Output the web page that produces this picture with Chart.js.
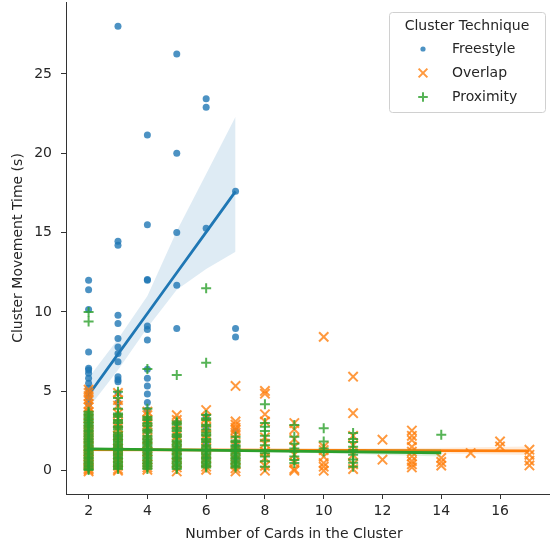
<!DOCTYPE html>
<html>
<head>
<meta charset="utf-8">
<script src="https://cdn.jsdelivr.net/npm/chart.js@4/dist/chart.umd.min.js"></script>
<style>
  body { margin: 0; background: #fff; }
  canvas { display: block; }
</style>
</head>
<body>
<canvas id="clusterChart" width="550" height="547"></canvas>
<script>
// [cards, seconds]
const freestyle = [
  [2, 12.0], [2, 11.4], [2, 10.15], [2, 7.48], [2, 6.45], [2, 6.35], [2, 6.14], [2, 5.83], [2, 5.51], [2, 5.2],
  [2, 4.9], [2, 4.6], [2, 4.2], [2, 3.8], [2, 3.3], [2, 2.9], [2, 2.4], [2, 2.0], [2, 1.6], [2, 1.2], [2, 0.8], [2, 0.4],
  [3, 28.0], [3, 14.46], [3, 14.2], [3, 9.79], [3, 9.27], [3, 8.33], [3, 7.8], [3, 7.39], [3, 6.86], [3, 5.92],
  [3, 5.73], [3, 5.6], [3, 4.9], [3, 4.3], [3, 3.5], [3, 2.8], [3, 2.1], [3, 1.5], [3, 0.9], [3, 0.3],
  [4, 21.15], [4, 15.5], [4, 12.05], [4, 12.0], [4, 9.12], [4, 8.9], [4, 8.24], [4, 6.39], [4, 5.83], [4, 5.34],
  [4, 4.83], [4, 4.3], [4, 3.83], [4, 3.2], [4, 2.5], [4, 1.8], [4, 1.1], [4, 0.5],
  [5, 26.26], [5, 20.0], [5, 15.0], [5, 11.68], [5, 8.96], [5, 3.0], [5, 2.2], [5, 1.4], [5, 0.7],
  [6, 23.43], [6, 22.9], [6, 15.27], [6, 3.4], [6, 2.6], [6, 1.7], [6, 0.9],
  [7, 17.6], [7, 8.96], [7, 8.43], [7, 2.5], [7, 1.6], [7, 0.8]
];

const overlap = [
  [2, 5.1], [2, 4.9], [2, 4.7], [2, 4.5], [2, 4.2], [2, 4.0], [2, 3.7], [2, 3.5], [2, 3.3], [2, 3.0],
  [2, 2.8], [2, 2.6], [2, 2.4], [2, 2.2], [2, 2.0], [2, 1.8], [2, 1.6], [2, 1.5], [2, 1.3], [2, 1.2],
  [2, 1.0], [2, 0.9], [2, 0.7], [2, 0.6], [2, 0.4], [2, 0.3], [2, 0.15], [2, 0.05], [2, -0.05],
  [3, 4.9], [3, 4.45], [3, 4.1], [3, 3.6], [3, 3.3], [3, 3.0], [3, 2.7], [3, 2.5], [3, 2.2], [3, 1.9],
  [3, 1.7], [3, 1.4], [3, 1.2], [3, 1.0], [3, 0.8], [3, 0.5], [3, 0.3], [3, 0.1], [3, 0.0],
  [4, 3.72], [4, 3.5], [4, 3.2], [4, 2.9], [4, 2.6], [4, 2.3], [4, 2.0], [4, 1.7], [4, 1.5], [4, 1.2],
  [4, 0.9], [4, 0.7], [4, 0.4], [4, 0.2], [4, 0.05],
  [5, 3.5], [5, 3.2], [5, 2.9], [5, 2.5], [5, 2.2], [5, 1.9], [5, 1.6], [5, 1.3], [5, 1.0], [5, 0.8], [5, 0.5], [5, 0.2], [5, -0.05],
  [6, 3.82], [6, 3.3], [6, 3.0], [6, 2.7], [6, 2.3], [6, 2.0], [6, 1.7], [6, 1.4], [6, 1.1], [6, 0.8], [6, 0.5], [6, 0.25], [6, 0.05],
  [7, 5.34], [7, 3.1], [7, 2.9], [7, 2.7], [7, 2.56], [7, 2.3], [7, 2.0], [7, 1.6], [7, 1.3], [7, 1.0], [7, 0.7], [7, 0.4], [7, 0.15], [7, -0.05],
  [8, 5.02], [8, 4.85], [8, 3.55], [8, 3.1], [8, 2.1], [8, 1.7], [8, 1.2], [8, 0.8], [8, 0.3], [8, 0.0],
  [9, 3.0], [9, 2.6], [9, 2.0], [9, 1.5], [9, 1.0], [9, 0.5], [9, 0.1], [9, 0.0],
  [10, 8.43], [10, 1.51], [10, 1.3], [10, 0.88], [10, 0.48], [10, 0.25], [10, 0.0],
  [11, 5.92], [11, 3.62], [11, 2.2], [11, 1.6], [11, 1.0], [11, 0.4], [11, 0.1],
  [12, 1.95], [12, 0.69],
  [13, 2.53], [13, 2.2], [13, 1.93], [13, 1.5], [13, 1.2], [13, 0.9], [13, 0.6], [13, 0.4], [13, 0.2],
  [14, 0.8], [14, 0.55], [14, 0.32],
  [15, 1.11],
  [16, 1.84], [16, 1.53],
  [17, 1.32], [17, 1.0], [17, 0.63], [17, 0.33]
];

const proximity = [
  [2, 10.0], [2, 9.4], [2, 3.72], [2, 3.6], [2, 3.5], [2, 3.4], [2, 3.3], [2, 3.2], [2, 3.1], [2, 3.0], [2, 2.9],
  [2, 2.8], [2, 2.7], [2, 2.6], [2, 2.5], [2, 2.4], [2, 2.3], [2, 2.2], [2, 2.1], [2, 2.0], [2, 1.9], [2, 1.8],
  [2, 1.7], [2, 1.6], [2, 1.5], [2, 1.4], [2, 1.3], [2, 1.2], [2, 1.1], [2, 1.0],
  [2, 0.9], [2, 0.8], [2, 0.7], [2, 0.6], [2, 0.5], [2, 0.4], [2, 0.3], [2, 0.2], [2, 0.1], [2, 0.05],
  [3, 4.98], [3, 4.58], [3, 3.9], [3, 3.6], [3, 3.5], [3, 3.4], [3, 3.2], [3, 3.1], [3, 3.0], [3, 2.8], [3, 2.7],
  [3, 2.6], [3, 2.4], [3, 2.3], [3, 2.2], [3, 2.1], [3, 2.0], [3, 1.9], [3, 1.8], [3, 1.7], [3, 1.6], [3, 1.5],
  [3, 1.4], [3, 1.3], [3, 1.2], [3, 1.1], [3, 1.0], [3, 0.9], [3, 0.8], [3, 0.7], [3, 0.6], [3, 0.5], [3, 0.4],
  [3, 0.3], [3, 0.2], [3, 0.1],
  [4, 6.4], [4, 3.9], [4, 3.4], [4, 3.3], [4, 3.2], [4, 3.0], [4, 2.9], [4, 2.8], [4, 2.6], [4, 2.5], [4, 2.4],
  [4, 2.2], [4, 2.1], [4, 2.0], [4, 1.9], [4, 1.8], [4, 1.7], [4, 1.6], [4, 1.5], [4, 1.4], [4, 1.3], [4, 1.2],
  [4, 1.1], [4, 1.0], [4, 0.9], [4, 0.8], [4, 0.7], [4, 0.6], [4, 0.5], [4, 0.4], [4, 0.3], [4, 0.2], [4, 0.1],
  [5, 6.03], [5, 3.1], [5, 3.0], [5, 2.9], [5, 2.7], [5, 2.6], [5, 2.5], [5, 2.3], [5, 2.2], [5, 2.1], [5, 1.9],
  [5, 1.8], [5, 1.7], [5, 1.6], [5, 1.5], [5, 1.4], [5, 1.3], [5, 1.2], [5, 1.1], [5, 1.0], [5, 0.9], [5, 0.8],
  [5, 0.7], [5, 0.6], [5, 0.5], [5, 0.4], [5, 0.3], [5, 0.2], [5, 0.1],
  [6, 11.5], [6, 6.8], [6, 3.5], [6, 3.3], [6, 3.2], [6, 2.9], [6, 2.8], [6, 2.6], [6, 2.4], [6, 2.3], [6, 2.2],
  [6, 2.0], [6, 1.9], [6, 1.8], [6, 1.6], [6, 1.5], [6, 1.4], [6, 1.3], [6, 1.2], [6, 1.1], [6, 1.0], [6, 0.9],
  [6, 0.8], [6, 0.7], [6, 0.6], [6, 0.5], [6, 0.4], [6, 0.3], [6, 0.2],
  [7, 2.14], [7, 1.9], [7, 1.8], [7, 1.6], [7, 1.5], [7, 1.4], [7, 1.3], [7, 1.2], [7, 1.1], [7, 1.0], [7, 0.9],
  [7, 0.8], [7, 0.7], [7, 0.6], [7, 0.5], [7, 0.4], [7, 0.3], [7, 0.2],
  [8, 4.18], [8, 3.0], [8, 2.77], [8, 2.5], [8, 2.2], [8, 1.9], [8, 1.6], [8, 1.3], [8, 1.1], [8, 0.9], [8, 0.6], [8, 0.25],
  [9, 2.88], [9, 2.14], [9, 1.7], [9, 1.4], [9, 1.2], [9, 0.9], [9, 0.67], [9, 0.48],
  [10, 2.68], [10, 1.84], [10, 1.4], [10, 1.2],
  [11, 2.37], [11, 2.0], [11, 1.8], [11, 1.5], [11, 1.3], [11, 1.0], [11, 0.7], [11, 0.5], [11, 0.25],
  [14, 2.26]
];

// regression lines and their confidence bands
const freestyleFitX = [2, 3, 4, 5, 6, 7];
const freestyleFit = [4.77, 7.34, 9.9, 12.47, 15.03, 17.6];
const freestyleLow = [3.95, 6.35, 9.0, 11.4, 12.7, 13.8];
const freestyleHigh = [5.85, 8.3, 11.0, 15.1, 18.7, 22.3];

const overlapFitX = [2, 5, 8, 11, 14, 17];
const overlapFit = [1.32, 1.31, 1.29, 1.28, 1.26, 1.25];
const overlapLow = [1.2, 1.24, 1.22, 1.17, 1.08, 0.98];
const overlapHigh = [1.44, 1.38, 1.36, 1.39, 1.44, 1.52];

const proximityFitX = [2, 5, 8, 11, 14];
const proximityFit = [1.37, 1.31, 1.25, 1.19, 1.13];
const proximityLow = [1.3, 1.26, 1.18, 1.05, 0.9];
const proximityHigh = [1.44, 1.36, 1.32, 1.33, 1.36];

const xTicks = [2, 4, 6, 8, 10, 12, 14, 16];
const yTicks = [0, 5, 10, 15, 20, 25];

const BLUE = '31,119,180', ORANGE = '255,127,14', GREEN = '44,160,44';
const FONT = "'DejaVu Sans', sans-serif";

const toXY = pairs => pairs.map(p => ({ x: p[0], y: p[1] }));
const zipXY = (xs, ys) => xs.map((x, i) => ({ x: x, y: ys[i] }));

function points(label, pairs, rgb, style, radius, order) {
  return {
    label: label,
    data: toXY(pairs),
    pointStyle: style,
    pointRadius: radius,
    pointBackgroundColor: 'rgba(' + rgb + ',0.8)',
    pointBorderColor: 'rgba(' + rgb + ',0.8)',
    pointBorderWidth: style === 'circle' ? 0 : 2,
    showLine: false,
    order: order
  };
}

function fitLine(xs, ys, rgb, order) {
  return {
    label: 'fit',
    data: zipXY(xs, ys),
    showLine: true,
    borderColor: 'rgb(' + rgb + ')',
    borderWidth: 2.8,
    pointRadius: 0,
    fill: false,
    order: order
  };
}

function band(xs, low, high, rgb, order) {
  return [
    { label: 'band', data: zipXY(xs, low), showLine: true, borderWidth: 0, pointRadius: 0, fill: false, order: order },
    { label: 'band', data: zipXY(xs, high), showLine: true, borderWidth: 0, pointRadius: 0,
      fill: '-1', backgroundColor: 'rgba(' + rgb + ',0.15)', order: order }
  ];
}

const datasets = [
  points('Freestyle', freestyle, BLUE, 'circle', 3.5, 9),
  fitLine(freestyleFitX, freestyleFit, BLUE, 8),
  ...band(freestyleFitX, freestyleLow, freestyleHigh, BLUE, 7),
  points('Overlap', overlap, ORANGE, 'crossRot', 6.6, 6),
  fitLine(overlapFitX, overlapFit, ORANGE, 5),
  ...band(overlapFitX, overlapLow, overlapHigh, ORANGE, 4),
  points('Proximity', proximity, GREEN, 'cross', 5, 3),
  fitLine(proximityFitX, proximityFit, GREEN, 2),
  ...band(proximityFitX, proximityLow, proximityHigh, GREEN, 1)
];

const legendItems = [
  { text: 'Freestyle', rgb: BLUE, style: 'circle', radius: 2.6 },
  { text: 'Overlap', rgb: ORANGE, style: 'crossRot', radius: 6.2 },
  { text: 'Proximity', rgb: GREEN, style: 'cross', radius: 4.8 }
];

const extras = {
  id: 'extras',
  afterDraw(chart) {
    const ctx = chart.ctx;
    ctx.save();
    // x axis title
    ctx.fillStyle = '#262626';
    ctx.font = '14px ' + FONT;
    ctx.textAlign = 'center';
    ctx.textBaseline = 'middle';
    ctx.fillText('Number of Cards in the Cluster', 294, 534);

    // legend box
    ctx.beginPath();
    ctx.roundRect(389.5, 12.5, 156, 100, 3);
    ctx.fillStyle = 'rgba(255,255,255,0.8)';
    ctx.fill();
    ctx.strokeStyle = '#d0d0d0';
    ctx.lineWidth = 1;
    ctx.stroke();

    ctx.fillStyle = '#262626';
    ctx.fillText('Cluster Technique', 467, 26);
    ctx.textAlign = 'left';
    legendItems.forEach((item, i) => {
      const y = 49 + i * 24;
      ctx.fillStyle = 'rgba(' + item.rgb + ',0.8)';
      ctx.strokeStyle = 'rgba(' + item.rgb + ',0.8)';
      ctx.lineWidth = 2;
      Chart.helpers.drawPoint(ctx, { pointStyle: item.style, radius: item.radius, borderWidth: item.style === 'circle' ? 0 : 2, rotation: 0 }, 423, y);
      ctx.fillStyle = '#262626';
      ctx.fillText(item.text, 452, y);
    });
    ctx.restore();
  }
};

const noPad = scale => {
  scale.paddingTop = 0;
  scale.paddingBottom = 0;
  scale.paddingLeft = 0;
  scale.paddingRight = 0;
};

new Chart(document.getElementById('clusterChart'), {
  type: 'scatter',
  data: { datasets: datasets },
  plugins: [extras],
  options: {
    responsive: false,
    animation: false,
    devicePixelRatio: 1,
    layout: { autoPadding: false, padding: { top: 2, right: 0, left: 0, bottom: 0 } },
    plugins: {
      legend: { display: false },
      tooltip: { enabled: false }
    },
    scales: {
      x: {
        type: 'linear',
        min: 1.231,
        max: 17.7,
        afterBuildTicks: scale => { scale.ticks = xTicks.map(v => ({ value: v })); },
        afterFit: scale => { scale.height = 53; noPad(scale); },
        grid: { display: true, drawOnChartArea: false, drawTicks: true, tickLength: 5, color: '#333', tickWidth: 1 },
        border: { display: true, color: '#333', width: 1 },
        ticks: { color: '#262626', font: { family: FONT, size: 14 }, padding: 4, maxRotation: 0 }
      },
      y: {
        type: 'linear',
        min: -1.47,
        max: 29.53,
        afterBuildTicks: scale => { scale.ticks = yTicks.map(v => ({ value: v })); },
        afterFit: scale => { scale.width = 66; noPad(scale); },
        grid: { display: true, drawOnChartArea: false, drawTicks: true, tickLength: 5, color: '#333', tickWidth: 1 },
        border: { display: true, color: '#333', width: 1 },
        ticks: { color: '#262626', font: { family: FONT, size: 14 }, padding: 9 },
        title: {
          display: true,
          text: 'Cluster Movement Time (s)',
          color: '#262626',
          font: { family: FONT, size: 14 },
          padding: { top: 10, bottom: 0 }
        }
      }
    }
  }
});
</script>
</body>
</html>
